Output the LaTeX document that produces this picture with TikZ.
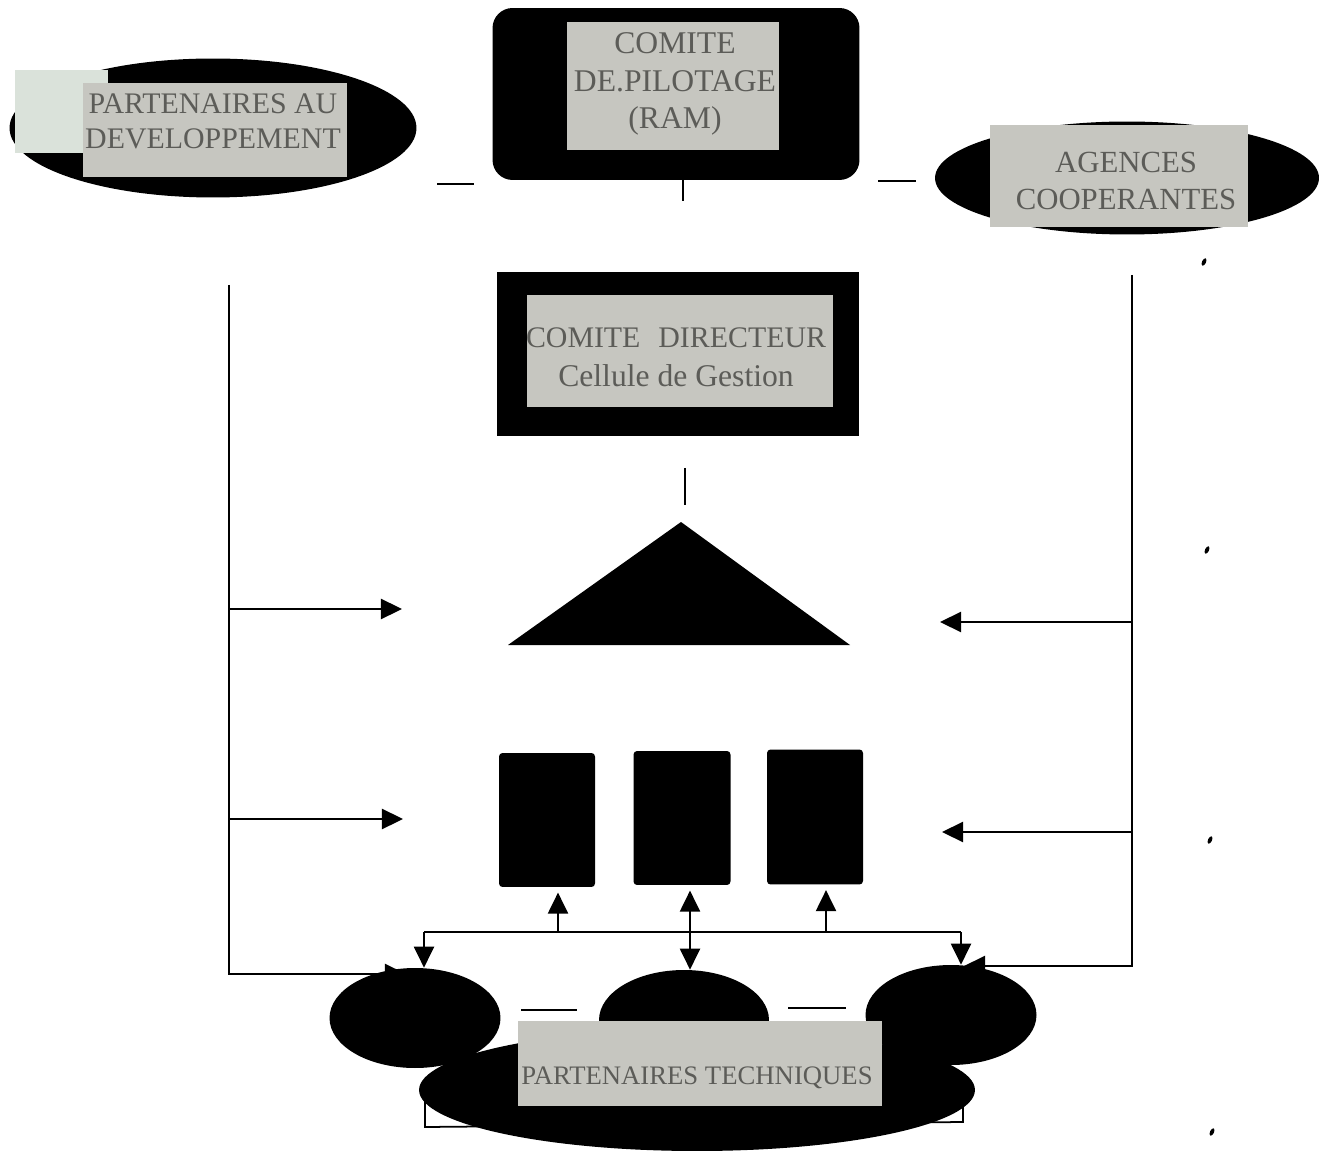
\documentclass[tikz,border=0pt]{standalone}
\usepackage{fontspec}
\setmainfont{Liberation Serif}
\usetikzlibrary{arrows.meta,shapes.geometric}
\definecolor{paper}{RGB}{198,198,192}
\definecolor{ink}{RGB}{92,92,88}
\definecolor{pale}{RGB}{218,226,218}

\begin{document}
\begin{tikzpicture}[x=0.02cm, y=-0.02cm,
  blob/.style={fill=black, draw=none, inner sep=0pt},
  card/.style={fill=paper, draw=none, inner sep=0pt},
  words/.style={text=ink, align=center, inner sep=0pt, font=\fontsize{17.5}{21}\selectfont},
  link/.style={line width=1pt},
  >={Triangle[length=12pt,width=11.5pt]}]
  \useasboundingbox (0,0) rectangle (1327,1151);

  % top row
  \node[blob, ellipse, minimum width=8.14cm, minimum height=2.78cm] (dev) at (213,128) {};
  \fill[pale] (15,70) rectangle (108,153);
  \node[card, minimum width=5.28cm, minimum height=1.88cm] (devcard) at (215,130) {};
  \node[words, font=\fontsize{17}{20}\selectfont] (devw) at (213,121) {PARTENAIRES AU\\DEVELOPPEMENT};

  \node[blob, rounded corners=0.4cm, minimum width=7.34cm, minimum height=3.44cm] (pilot) at (676,94) {};
  \node[card, minimum width=4.26cm, minimum height=2.56cm] (pilotcard) at (673,86) {};
  \node[words, font=\fontsize{18}{21.5}\selectfont] (pilotw) at (675,84) {COMITE\\DE.PILOTAGE\\(RAM)};

  \node[blob, ellipse, minimum width=7.68cm, minimum height=2.26cm] (agc) at (1127,178) {};
  \node[card, minimum width=5.16cm, minimum height=2.04cm] (agccard) at (1119,176) {};
  \node[words] (agcw) at (1126,181) {AGENCES\\COOPERANTES};

  % stubs and dashes
  \coordinate (pstub) at (683,201);
  \draw[link] (pilot.south -| pstub) -- (pstub);
  \draw[link] (437,184) -- (474,184);
  \draw[link] (878,181) -- (916,181);

  % management
  \node[blob, minimum width=7.26cm, minimum height=3.3cm] (dir) at (678,354) {};
  \node[card, minimum width=6.14cm, minimum height=2.24cm] (dircard) at (680,351) {};
  \node[words, font=\fontsize{17}{22}\selectfont] (dirw) at (676,357) {COMITE\hspace{0.6em}DIRECTEUR\\{\fontsize{18}{22}\selectfont Cellule de Gestion}};

  \draw[link] (685,468) -- (685,505);
  \fill (681,522) -- (508,645) -- (850,645) -- cycle;

  % three units
  \node[blob, rounded corners=2pt, minimum width=1.92cm, minimum height=2.68cm] (col1) at (547,820) {};
  \node[blob, rounded corners=2pt, minimum width=1.94cm, minimum height=2.68cm] (col2) at (682,818) {};
  \node[blob, rounded corners=2pt, minimum width=1.92cm, minimum height=2.7cm] (col3) at (815,817) {};

  % bottom row
  \draw[link] (425,1095) -- (425,1127) -- (963,1122) -- (963,1095);
  \node[blob, ellipse, minimum width=3.42cm, minimum height=2cm] (tl) at (415,1018) {};
  \node[blob, ellipse, minimum width=3.4cm, minimum height=2cm] (tm) at (684,1020) {};
  \node[blob, ellipse, minimum width=3.42cm, minimum height=2cm] (tr) at (951,1015) {};
  \node[blob, ellipse, minimum width=11.12cm, minimum height=2.44cm] (tech) at (697,1090) {};
  \node[card, minimum width=7.3cm, minimum height=1.7cm] (techcard) at (700,1063) {};
  \node[words, font=\fontsize{15.2}{18}\selectfont] (techw) at (697,1078) {PARTENAIRES TECHNIQUES};
  \draw[link] (521,1010) -- (577,1010);
  \draw[link] (788,1008) -- (846,1008);

  % left side
  \coordinate (ltop) at (229,285);
  \coordinate (roofL) at (402,609);
  \coordinate (colsL) at (403,819);
  \coordinate (tlL) at (406,974);
  \draw[link,->] (ltop) |- (tlL);
  \draw[link,->] (ltop |- roofL) -- (roofL);
  \draw[link,->] (ltop |- colsL) -- (colsL);

  % right side
  \coordinate (rtop) at (1132,275);
  \coordinate (roofR) at (940,622);
  \coordinate (colsR) at (942,832);
  \coordinate (trR) at (964,966);
  \draw[link,->] (rtop) |- (trR);
  \draw[link,->] (rtop |- roofR) -- (roofR);
  \draw[link,->] (rtop |- colsR) -- (colsR);

  % bus under the units
  \coordinate (bl) at (424,932);
  \coordinate (b1) at (558,932);
  \coordinate (b2) at (690,932);
  \coordinate (b3) at (826,932);
  \coordinate (br) at (961,932);
  \draw[link] (bl) -- (br);
  \draw[link,->,shorten >=3pt] (b1) -- (b1 |- col1.south);
  \draw[link,->,shorten >=3pt] (b3) -- (b3 |- col3.south);
  \draw[link,<->,shorten <=3pt] (b2 |- col2.south) -- (b2 |- tm.north);
  \draw[link,->] (bl) -- (bl |- tl.north);
  \draw[link,->] (br) -- (br |- tr.north);

  % specks
  \foreach \px/\py in {1204/262, 1207/550, 1210/840, 1212/1132}
    \fill (\px,\py) ellipse [x radius=0.04cm, y radius=0.08cm, rotate=-25];
\end{tikzpicture}
\end{document}
